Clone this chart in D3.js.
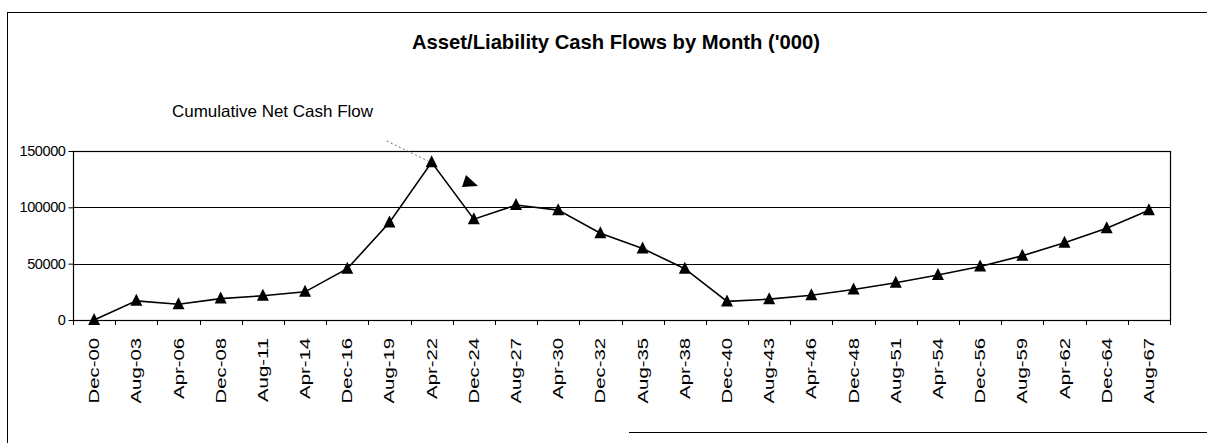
<!DOCTYPE html>
<html>
<head>
<meta charset="utf-8">
<script src="https://cdn.jsdelivr.net/npm/d3@7/dist/d3.min.js"></script>
<style>
  body { margin: 0; background: #fff; }
  svg { display: block; font-family: "Liberation Sans", Arial, sans-serif; }
</style>
</head>
<body>
<script>
const width = 1207;
const height = 443;

const categories = [
  'Dec-00', 'Aug-03', 'Apr-06', 'Dec-08', 'Aug-11', 'Apr-14', 'Dec-16', 'Aug-19', 'Apr-22',
  'Dec-24', 'Aug-27', 'Apr-30', 'Dec-32', 'Aug-35', 'Apr-38', 'Dec-40', 'Aug-43', 'Apr-46',
  'Dec-48', 'Aug-51', 'Apr-54', 'Dec-56', 'Aug-59', 'Apr-62', 'Dec-64', 'Aug-67',
];
const netCash = [
  0, 17000, 14000, 19000, 21500, 25000, 45500, 86500, 140000,
  89500, 102000, 97500, 77000, 63500, 45500, 16500, 18500, 22000,
  27000, 33000, 40000, 47500, 57000, 68500, 81500, 97500,
];
const yTicks = [0, 50000, 100000, 150000];

const title = "Asset/Liability Cash Flows by Month ('000)";
const seriesLabel = 'Cumulative Net Cash Flow';

const plot = { left: 73, right: 1170, top: 151, bottom: 320 };

const svg = d3.select('body').append('svg').attr('width', width).attr('height', height);

svg.append('rect').attr('width', width).attr('height', height).attr('fill', '#fff');

// outer chart frame (partly lost in the scan)
svg.append('line').attr('x1', 7.5).attr('x2', 7.5).attr('y1', 12.5).attr('y2', height).attr('stroke', '#000');
svg.append('line').attr('x1', 7).attr('x2', width).attr('y1', 12.5).attr('y2', 12.5).attr('stroke', '#000');
svg.append('line').attr('x1', 629).attr('x2', width).attr('y1', 432.5).attr('y2', 432.5).attr('stroke', '#000');

const x = d3.scaleBand().domain(categories).range([plot.left, plot.right]).paddingInner(0).paddingOuter(0);
const y = d3.scaleLinear().domain([0, 150000]).range([plot.bottom, plot.top]);

// gridlines
svg
  .selectAll('.grid')
  .data(yTicks)
  .enter()
  .append('line')
  .attr('class', 'grid')
  .attr('x1', plot.left)
  .attr('x2', plot.right)
  .attr('y1', function (d) {
    return Math.round(y(d)) + 0.5;
  })
  .attr('y2', function (d) {
    return Math.round(y(d)) + 0.5;
  })
  .attr('stroke', '#000')
  .attr('stroke-width', 1.2);

// plot border
svg
  .append('rect')
  .attr('x', plot.left + 0.5)
  .attr('y', Math.round(y(150000)) + 0.5)
  .attr('width', plot.right - plot.left)
  .attr('height', Math.round(y(0)) - Math.round(y(150000)))
  .attr('fill', 'none')
  .attr('stroke', '#000')
  .attr('stroke-width', 1.2);

// y axis
const yAxis = svg
  .append('g')
  .attr('transform', 'translate(' + (plot.left + 0.5) + ',0)')
  .call(d3.axisLeft(y).tickValues(yTicks).tickFormat(d3.format('d')).tickSize(5).tickPadding(3));
yAxis.select('.domain').remove();
yAxis.selectAll('line').attr('stroke', '#000');
yAxis
  .selectAll('text')
  .attr('fill', '#000')
  .style('font-family', '"Liberation Sans", Arial, sans-serif')
  .style('font-size', '14.5px')
  .style('letter-spacing', '-0.4px');

// x axis ticks at category boundaries
const bounds = categories.map(function (c) {
  return x(c);
});
bounds.push(plot.right);
svg
  .selectAll('.xtick')
  .data(bounds)
  .enter()
  .append('line')
  .attr('class', 'xtick')
  .attr('x1', function (d) {
    return Math.round(d) + 0.5;
  })
  .attr('x2', function (d) {
    return Math.round(d) + 0.5;
  })
  .attr('y1', y(0))
  .attr('y2', y(0) + 5)
  .attr('stroke', '#000');

// x labels, rotated and stretched like the scanned original
svg
  .selectAll('.xlabel')
  .data(categories)
  .enter()
  .append('text')
  .attr('class', 'xlabel')
  .attr('transform', function (d) {
    return 'translate(' + (x(d) + x.bandwidth() / 2) + ',338) rotate(-90) scale(1.45,1)';
  })
  .attr('dy', '0.36em')
  .attr('text-anchor', 'end')
  .attr('font-size', 14)
  .attr('fill', '#000')
  .text(function (d) {
    return d;
  });

// series line
const line = d3
  .line()
  .x(function (d, i) {
    return x(categories[i]) + x.bandwidth() / 2;
  })
  .y(function (d) {
    return y(d);
  });

svg
  .append('path')
  .datum(netCash)
  .attr('d', line)
  .attr('fill', 'none')
  .attr('stroke', '#000')
  .attr('stroke-width', 1.6);

svg
  .selectAll('.point')
  .data(netCash)
  .enter()
  .append('path')
  .attr('class', 'point')
  .attr('transform', function (d, i) {
    return 'translate(' + (x(categories[i]) + x.bandwidth() / 2) + ',' + y(d) + ')';
  })
  .attr('d', 'M0,-7L6,5L-6,5Z')
  .attr('fill', '#000');

// title
svg
  .append('text')
  .attr('x', 616)
  .attr('y', 49)
  .attr('text-anchor', 'middle')
  .attr('font-size', 21)
  .attr('font-weight', 'bold')
  .attr('textLength', 408)
  .attr('lengthAdjust', 'spacingAndGlyphs')
  .attr('fill', '#000')
  .text(title);

// series annotation with dotted leader
svg
  .append('text')
  .attr('x', 172)
  .attr('y', 117)
  .attr('font-size', 16.5)
  .attr('textLength', 201)
  .attr('lengthAdjust', 'spacingAndGlyphs')
  .attr('fill', '#000')
  .text(seriesLabel);

svg
  .append('line')
  .attr('x1', 387)
  .attr('y1', 141)
  .attr('x2', 428)
  .attr('y2', 161)
  .attr('stroke', '#444')
  .attr('stroke-dasharray', '1.5,3');

svg.append('path').attr('d', 'M466,175L478,186L462,187Z').attr('fill', '#000');
</script>
</body>
</html>
